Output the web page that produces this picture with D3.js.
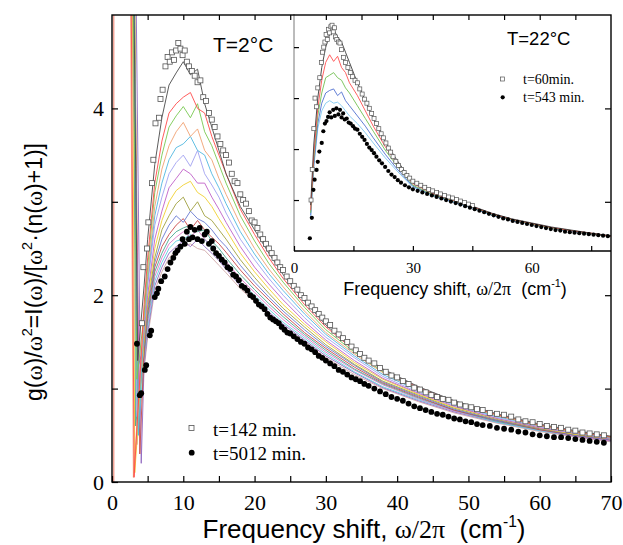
<!DOCTYPE html>
<html>
<head>
<meta charset="utf-8">
<script src="https://cdn.jsdelivr.net/npm/d3@7"></script>
<style>
  body { margin: 0; background: #fff; }
  svg { display: block; }
  .tick line { stroke: #000; stroke-width: 1.2; }
</style>
</head>
<body>
<div id="chart"></div>
<script>
// ---- main plot (T = 2 C) ----
// open squares, t = 142 min
var squares142 = [[4.2,1.7],[4.4,2.3],[4.9,2.5],[5.1,2.78],[5.6,3.2],[5.8,3.45],[6.1,3.84],[6.6,3.9],[6.8,4.1],[7.1,4.2],[7.5,4.45],[7.8,4.55],[8.1,4.5],[8.4,4.6],[8.7,4.52],[9.0,4.62],[9.3,4.7],[9.6,4.64],[9.9,4.57],[10.2,4.62],[10.5,4.5],[10.8,4.45],[11.2,4.4],[11.6,4.35],[12.0,4.28],[12.4,4.3],[12.8,4.12],[13.2,4.08],[13.6,3.95],[14.0,3.88],[14.4,3.8],[14.8,3.7],[15.2,3.62],[15.6,3.55],[16.0,3.5],[16.4,3.42],[16.8,3.3],[17.2,3.22],[17.6,3.2],[18.0,3.08],[18.4,3.02],[18.8,2.98],[19.2,2.9],[19.6,2.8],[20.0,2.78],[20.4,2.72],[20.8,2.65],[21.2,2.6],[21.6,2.55],[22.0,2.5],[22.4,2.45],[22.8,2.4],[23.2,2.35],[23.6,2.3],[24.0,2.27],[24.5,2.2],[25.0,2.15],[25.5,2.1],[26.0,2.06],[26.5,2.0],[27.0,1.97],[27.5,1.92],[28.0,1.88],[28.5,1.84],[29.0,1.8],[29.5,1.76],[30.0,1.72],[30.6,1.68],[31.2,1.62],[31.8,1.58],[32.4,1.54],[33.0,1.5],[33.6,1.45],[34.2,1.41],[34.8,1.37],[35.4,1.33],[36.0,1.3],[36.8,1.27],[37.6,1.22],[38.4,1.18],[39.2,1.14],[40.0,1.12],[40.8,1.08],[41.6,1.05],[42.4,1.01],[43.2,0.99],[44.0,0.96],[44.8,0.93],[45.6,0.91],[46.4,0.89],[47.2,0.88],[48.0,0.85],[48.8,0.83],[49.6,0.81],[50.4,0.8],[51.2,0.78],[52.0,0.77],[53.0,0.74],[54.0,0.73],[55.0,0.72],[56.0,0.7],[57.0,0.67],[58.0,0.65],[59.0,0.64],[60.0,0.62],[61.0,0.6],[62.0,0.59],[63.0,0.58],[64.0,0.56],[65.0,0.55],[66.0,0.53],[67.0,0.52],[68.0,0.51],[69.0,0.5]];

// filled dots, t = 5012 min
var dots5012 = [[3.5,1.48],[3.9,0.93],[4.1,0.95],[4.6,1.2],[4.8,1.25],[5.3,1.57],[5.5,1.62],[6.0,1.98],[6.3,2.02],[6.5,2.07],[6.9,2.15],[7.4,2.2],[7.8,2.28],[8.2,2.35],[8.6,2.4],[8.9,2.45],[9.2,2.48],[9.6,2.52],[9.9,2.6],[10.2,2.55],[10.5,2.68],[10.8,2.6],[11.0,2.73],[11.3,2.62],[11.6,2.7],[12.0,2.6],[12.3,2.72],[12.6,2.58],[13.0,2.65],[13.3,2.68],[13.6,2.55],[14.0,2.58],[14.2,2.5],[14.6,2.45],[15.0,2.42],[15.4,2.38],[15.8,2.35],[16.2,2.3],[16.6,2.28],[17.0,2.22],[17.4,2.2],[17.8,2.16],[18.2,2.1],[18.6,2.08],[19.0,2.05],[19.4,2.0],[19.8,1.98],[20.2,1.94],[20.6,1.9],[21.0,1.88],[21.4,1.85],[21.8,1.8],[22.2,1.76],[22.6,1.74],[23.0,1.72],[23.4,1.7],[23.8,1.66],[24.2,1.63],[24.6,1.6],[25.0,1.59],[25.5,1.56],[26.0,1.53],[26.5,1.5],[27.0,1.48],[27.5,1.44],[28.0,1.42],[28.5,1.39],[29.0,1.35],[29.5,1.33],[30.0,1.3],[30.6,1.27],[31.2,1.24],[31.8,1.2],[32.4,1.18],[33.0,1.15],[33.6,1.12],[34.2,1.1],[34.8,1.08],[35.4,1.05],[36.0,1.03],[36.8,1.0],[37.6,0.97],[38.4,0.94],[39.2,0.91],[40.0,0.89],[40.8,0.87],[41.6,0.84],[42.4,0.81],[43.2,0.79],[44.0,0.77],[44.8,0.75],[45.6,0.73],[46.4,0.72],[47.2,0.7],[48.0,0.68],[48.8,0.67],[49.6,0.65],[50.4,0.64],[51.2,0.62],[52.0,0.61],[53.0,0.6],[54.0,0.58],[55.0,0.57],[56.0,0.56],[57.0,0.54],[58.0,0.53],[59.0,0.51],[60.0,0.5],[61.0,0.49],[62.0,0.48],[63.0,0.48],[64.0,0.47],[65.0,0.46],[66.0,0.45],[67.0,0.44],[68.0,0.43],[69.0,0.42]];

// intermediate times, thin coloured lines
var lineFreq = [4.5,5,6,7,8,9,10,11,12,13,14,15,16,18,20,22,24,27,30,34,38,43,48,54,60,65,70];
var lineColors = ["#4a4a4a","#ff4a4a","#78c850","#f0a070","#50b8e0","#a0a0f0","#c060c8","#f0d030",
                  "#a0a040","#6878d0","#c84848","#48a890","#e078c8","#60d0e0","#9068c0","#d0a8a8"];
// low frequency part: where each line leaves the top, and its dip
var lineTopFreq = [2.9,2.6,2.8,2.5,2.9,3.0,2.7,2.8,3.1,2.6,2.9,3.0,2.7,2.8,3.2,2.9];
var lineMinFreq = [3.6,3.1,3.5,3.0,3.7,3.5,3.8,3.2,3.6,3.5,3.9,3.3,3.7,3.6,4.1,3.5];
var lineMinValue = [1.3,0.05,1.1,0.05,0.5,0.7,1.0,0.1,0.8,1.2,0.3,0.6,0.9,0.5,0.2,0.4];
var lineValues = [
  [2.1,2.6,3.4,3.9,4.25,4.38,4.5,4.36,4.42,4.05,3.8,3.55,3.3,2.95,2.7,2.45,2.22,1.94,1.68,1.42,1.21,1.02,0.87,0.73,0.62,0.55,0.49],
  [1.9,2.4,3.2,3.65,3.95,4.05,4.12,4.17,4.0,3.95,3.7,3.5,3.3,2.92,2.65,2.4,2.18,1.9,1.66,1.41,1.2,1.01,0.86,0.72,0.61,0.54,0.48],
  [1.8,2.3,3.1,3.5,3.8,3.92,4.02,3.9,4.05,3.75,3.6,3.4,3.2,2.85,2.58,2.34,2.14,1.87,1.63,1.39,1.18,1.0,0.85,0.72,0.61,0.54,0.48],
  [1.75,2.2,2.95,3.35,3.6,3.75,3.85,3.7,3.78,3.55,3.45,3.25,3.08,2.76,2.5,2.28,2.09,1.83,1.6,1.37,1.17,0.99,0.84,0.71,0.6,0.53,0.48],
  [1.7,2.15,2.85,3.2,3.45,3.58,3.62,3.7,3.55,3.5,3.3,3.15,2.98,2.68,2.44,2.23,2.05,1.8,1.58,1.35,1.15,0.98,0.83,0.7,0.6,0.53,0.47],
  [1.65,2.1,2.75,3.05,3.3,3.42,3.5,3.38,3.55,3.3,3.18,3.05,2.88,2.6,2.38,2.18,2.0,1.76,1.55,1.33,1.13,0.96,0.82,0.69,0.59,0.52,0.47],
  [1.6,2.0,2.6,2.9,3.15,3.25,3.35,3.3,3.2,3.2,3.05,2.92,2.78,2.52,2.3,2.12,1.95,1.72,1.52,1.3,1.11,0.95,0.81,0.68,0.58,0.52,0.46],
  [1.55,1.95,2.5,2.8,3.0,3.12,3.18,3.22,3.1,3.05,2.95,2.82,2.7,2.45,2.25,2.07,1.9,1.69,1.5,1.28,1.1,0.94,0.8,0.68,0.58,0.51,0.46],
  [1.5,1.9,2.4,2.7,2.85,2.98,3.05,2.9,3.0,2.85,2.8,2.7,2.6,2.38,2.19,2.02,1.86,1.66,1.47,1.26,1.08,0.93,0.79,0.67,0.57,0.51,0.46],
  [1.45,1.85,2.35,2.6,2.75,2.85,2.78,2.9,2.82,2.78,2.7,2.6,2.52,2.32,2.14,1.98,1.83,1.63,1.45,1.25,1.07,0.92,0.78,0.66,0.57,0.5,0.45],
  [1.4,1.8,2.3,2.52,2.65,2.75,2.82,2.7,2.8,2.7,2.62,2.55,2.46,2.27,2.1,1.95,1.8,1.6,1.43,1.23,1.06,0.91,0.77,0.66,0.56,0.5,0.45],
  [1.35,1.75,2.25,2.45,2.6,2.68,2.72,2.75,2.68,2.7,2.58,2.5,2.4,2.22,2.06,1.91,1.77,1.58,1.41,1.21,1.05,0.9,0.77,0.65,0.56,0.5,0.45],
  [1.3,1.7,2.2,2.4,2.55,2.62,2.68,2.62,2.7,2.6,2.52,2.45,2.36,2.18,2.03,1.88,1.74,1.56,1.39,1.2,1.04,0.89,0.76,0.65,0.56,0.49,0.44],
  [1.3,1.65,2.15,2.35,2.5,2.58,2.6,2.65,2.58,2.6,2.5,2.4,2.32,2.14,2.0,1.85,1.71,1.54,1.37,1.18,1.02,0.88,0.76,0.64,0.55,0.49,0.44],
  [1.25,1.6,2.1,2.3,2.45,2.52,2.58,2.52,2.6,2.52,2.45,2.37,2.28,2.1,1.96,1.82,1.69,1.52,1.35,1.17,1.01,0.87,0.75,0.64,0.55,0.49,0.44],
  [1.2,1.55,2.05,2.25,2.4,2.48,2.52,2.55,2.5,2.48,2.4,2.32,2.24,2.07,1.93,1.79,1.66,1.5,1.33,1.15,1.0,0.86,0.74,0.63,0.54,0.48,0.43]
];
// stray curve hugging the y axis
var edgeLine = [[0.25,0],[0.25,5.3]];

// ---- inset (T = 22 C) ----
var insetSquares60 = [[4.3,1.0],[4.6,1.6],[5.0,2.4],[5.3,3.0],[5.7,2.83],[6.0,3.2],[6.5,3.4],[6.9,3.7],[7.2,3.9],[7.5,4.0],[7.8,4.1],[8.1,4.25],[8.4,4.15],[8.7,4.35],[9.0,4.28],[9.3,4.4],[9.6,4.43],[9.9,4.3],[10.2,4.38],[10.5,4.2],[10.8,4.15],[11.2,4.1],[11.6,4.08],[12.0,3.95],[12.5,3.8],[13.0,3.7],[13.6,3.6],[14.2,3.5],[14.8,3.42],[15.4,3.35],[16.0,3.3],[16.6,3.18],[17.2,3.08],[17.8,2.98],[18.4,2.9],[19.0,2.8],[19.6,2.7],[20.2,2.6],[20.8,2.5],[21.4,2.4],[22.0,2.3],[22.6,2.22],[23.2,2.12],[23.8,2.02],[24.4,1.94],[25.0,1.85],[25.7,1.76],[26.4,1.68],[27.1,1.6],[27.8,1.54],[28.5,1.48],[29.2,1.43],[30.0,1.37],[31.0,1.33],[32.0,1.29],[33.0,1.25],[34.0,1.21],[35.0,1.18],[36.0,1.15],[37.0,1.12],[38.0,1.09],[39.0,1.06],[40.0,1.04],[41.0,1.01],[42.0,0.98],[43.0,0.95],[44.0,0.92],[45.0,0.89]];
var insetDots543 = [[4.0,0.25],[4.5,0.65],[4.9,1.2],[5.2,1.4],[5.7,1.59],[6.0,1.75],[6.4,1.95],[7.0,2.12],[7.4,2.35],[7.8,2.5],[8.2,2.55],[8.6,2.63],[9.0,2.72],[9.4,2.62],[9.9,2.77],[10.3,2.65],[10.7,2.8],[11.2,2.68],[11.6,2.77],[12.0,2.62],[12.4,2.7],[12.8,2.58],[13.3,2.6],[13.8,2.52],[14.3,2.5],[14.9,2.45],[15.4,2.4],[16.0,2.38],[16.6,2.3],[17.2,2.24],[17.8,2.18],[18.4,2.1],[19.0,2.03],[19.6,1.98],[20.2,1.92],[20.8,1.85],[21.5,1.78],[22.2,1.72],[23.0,1.65],[23.8,1.57],[24.6,1.5],[25.4,1.45],[26.2,1.39],[27.0,1.34],[28.0,1.29],[29.0,1.25],[30.0,1.21],[31.2,1.18],[32.4,1.15],[33.6,1.12],[34.8,1.09],[36.0,1.06],[37.2,1.03],[38.4,1.0],[39.6,0.97],[40.8,0.94],[42.0,0.91],[43.2,0.88],[44.4,0.85],[45.6,0.82],[46.8,0.79],[48.0,0.76],[49.2,0.73],[50.4,0.7],[51.6,0.67],[52.8,0.64],[54.0,0.62],[55.2,0.59],[56.4,0.57],[57.6,0.55],[58.8,0.53],[60.0,0.51],[61.2,0.49],[62.4,0.47],[63.6,0.45],[64.8,0.43],[66.0,0.41],[67.2,0.4],[68.4,0.38],[69.6,0.37],[70.8,0.36],[72.0,0.35],[73.2,0.34],[74.4,0.33],[75.6,0.32],[76.8,0.31],[78.0,0.3],[79.2,0.29]];
var insetLineFreq = [4.2,5,6,7,8,9,10,11,12,13,14,16,18,20,23,26,30,35,40,45,50,55,60,65,70,75,80];
var insetLineColors = ["#3a3a3a","#ff5050","#70c050","#5070d0","#80c8f0"];
var insetLineValues = [
  [0.9,2.1,3.0,3.6,4.0,4.25,4.35,4.2,4.1,3.9,3.7,3.3,2.95,2.6,2.15,1.78,1.34,1.15,1.02,0.88,0.74,0.63,0.55,0.47,0.41,0.35,0.3],
  [0.8,1.9,2.8,3.35,3.7,3.85,3.72,3.82,3.6,3.5,3.3,3.05,2.75,2.45,2.05,1.72,1.32,1.13,1.0,0.87,0.73,0.62,0.54,0.46,0.4,0.35,0.29],
  [0.75,1.8,2.65,3.1,3.4,3.45,3.5,3.4,3.35,3.2,3.1,2.85,2.6,2.35,1.98,1.67,1.29,1.11,0.99,0.86,0.72,0.61,0.53,0.45,0.4,0.34,0.29],
  [0.7,1.7,2.5,2.9,3.1,3.15,3.18,3.05,3.12,2.95,2.85,2.65,2.45,2.22,1.9,1.61,1.27,1.1,0.97,0.85,0.71,0.6,0.53,0.45,0.39,0.34,0.29],
  [0.65,1.65,2.4,2.75,2.9,2.95,2.9,2.92,2.85,2.75,2.65,2.5,2.32,2.12,1.83,1.57,1.25,1.08,0.96,0.84,0.7,0.6,0.52,0.44,0.39,0.34,0.29]
];

var mainXTicks = [0,10,20,30,40,50,60,70];
var mainYTicks = [0,2,4];
var insetXTicks = [0,30,60];

var W = 623, H = 545;
var SANS = "'Liberation Sans', Arial, sans-serif";
var SERIF = "'Liberation Serif', 'Times New Roman', serif";

var svg = d3.select("#chart").append("svg")
    .attr("width", W).attr("height", H);

var x = d3.scaleLinear().domain([0, 70]).range([112, 611]);
var y = d3.scaleLinear().domain([0, 5]).range([482, 15]);

var xi = d3.scaleLinear().domain([0, 80]).range([294, 611]);
var yi = d3.scaleLinear().domain([0, 4.65]).range([251, 14]);

var defs = svg.append("defs");
defs.append("clipPath").attr("id", "clipMain").append("rect")
    .attr("x", 112).attr("y", 15).attr("width", 499).attr("height", 467);
defs.append("clipPath").attr("id", "clipInset").append("rect")
    .attr("x", 294).attr("y", 14).attr("width", 317).attr("height", 237);

// ---------- main plot data ----------
var main = svg.append("g").attr("clip-path", "url(#clipMain)");
var line = d3.line().x(function (d) { return x(d[0]); }).y(function (d) { return y(d[1]); });

main.append("path").datum(edgeLine)
    .attr("fill", "none").attr("stroke", "#f09080").attr("stroke-width", 1.2).attr("d", line);

for (var i = lineValues.length - 1; i >= 0; i--) {
    var pts = [[lineTopFreq[i], 6.5], [lineMinFreq[i], lineMinValue[i]]];
    lineFreq.forEach(function (f, k) { pts.push([f, lineValues[i][k]]); });
    main.append("path").datum(pts)
        .attr("fill", "none")
        .attr("stroke", lineColors[i])
        .attr("stroke-width", 0.9)
        .attr("d", line);
}

main.selectAll(".sq").data(squares142).enter().append("rect")
    .attr("x", function (d) { return x(d[0]) - 2.5; })
    .attr("y", function (d) { return y(d[1]) - 2.5; })
    .attr("width", 5).attr("height", 5)
    .attr("fill", "#fff").attr("stroke", "#555").attr("stroke-width", 0.8);

main.selectAll(".dot").data(dots5012).enter().append("circle")
    .attr("cx", function (d) { return x(d[0]); })
    .attr("cy", function (d) { return y(d[1]); })
    .attr("r", 2.9).attr("fill", "#000");

// legend + temperature
svg.append("rect").attr("x", 189).attr("y", 425.5).attr("width", 5).attr("height", 5)
    .attr("fill", "#fff").attr("stroke", "#555").attr("stroke-width", 0.8);
svg.append("circle").attr("cx", 191.7).attr("cy", 452.7).attr("r", 2.9).attr("fill", "#000");
svg.append("text").attr("x", 213).attr("y", 436).attr("font-family", SERIF).attr("font-size", 19)
    .text("t=142 min.");
svg.append("text").attr("x", 213).attr("y", 460).attr("font-family", SERIF).attr("font-size", 19)
    .text("t=5012 min.");
svg.append("text").attr("x", 213).attr("y", 51.5).attr("font-family", SANS).attr("font-size", 21)
    .text("T=2\u00B0C");

// ---------- inset ----------
var inset = svg.append("g");
inset.append("rect").attr("x", 294).attr("y", 14).attr("width", 317).attr("height", 237)
    .attr("fill", "#fff");
var insetData = inset.append("g").attr("clip-path", "url(#clipInset)");
var iline = d3.line().x(function (d) { return xi(d[0]); }).y(function (d) { return yi(d[1]); });

for (var j = insetLineValues.length - 1; j >= 0; j--) {
    var ipts = insetLineFreq.map(function (f, k) { return [f, insetLineValues[j][k]]; });
    insetData.append("path").datum(ipts)
        .attr("fill", "none").attr("stroke", insetLineColors[j]).attr("stroke-width", 0.9)
        .attr("d", iline);
}
insetData.selectAll(".isq").data(insetSquares60).enter().append("rect")
    .attr("x", function (d) { return xi(d[0]) - 2; })
    .attr("y", function (d) { return yi(d[1]) - 2; })
    .attr("width", 4).attr("height", 4)
    .attr("fill", "#fff").attr("stroke", "#555").attr("stroke-width", 0.7);
insetData.selectAll(".idot").data(insetDots543).enter().append("circle")
    .attr("cx", function (d) { return xi(d[0]); })
    .attr("cy", function (d) { return yi(d[1]); })
    .attr("r", 2.1).attr("fill", "#000");

// inset frame and axes
inset.append("line").attr("x1", 294).attr("x2", 294).attr("y1", 14).attr("y2", 251)
    .attr("stroke", "#555").attr("stroke-width", 0.8);
inset.append("line").attr("x1", 294).attr("x2", 611).attr("y1", 251).attr("y2", 251)
    .attr("stroke", "#000").attr("stroke-width", 1.3);

var ixAxis = inset.append("g").attr("transform", "translate(0,251)")
    .call(d3.axisBottom(xi).tickValues([0,15,30,45,60,75]).tickSize(-5).tickPadding(11)
        .tickFormat(function (d) { return insetXTicks.indexOf(d) >= 0 ? d : ""; }));
ixAxis.select(".domain").remove();
ixAxis.selectAll("text").attr("font-family", SERIF).attr("font-size", 15).attr("fill", "#000");

var iyAxis = inset.append("g").attr("transform", "translate(294,0)")
    .call(d3.axisLeft(yi).tickValues([1,2,3,4]).tickSize(-5).tickFormat(""));
iyAxis.select(".domain").remove();
iyAxis.selectAll("line").attr("stroke", "#444").attr("stroke-width", 0.9);

inset.append("rect").attr("x", 500.5).attr("y", 77).attr("width", 4).attr("height", 4)
    .attr("fill", "#fff").attr("stroke", "#555").attr("stroke-width", 0.7);
inset.append("circle").attr("cx", 502.7).attr("cy", 97.3).attr("r", 2.1).attr("fill", "#000");
inset.append("text").attr("x", 523).attr("y", 84).attr("font-family", SERIF).attr("font-size", 14)
    .text("t=60min.");
inset.append("text").attr("x", 523).attr("y", 102).attr("font-family", SERIF).attr("font-size", 14)
    .text("t=543 min.");
inset.append("text").attr("x", 507).attr("y", 45).attr("font-family", SANS).attr("font-size", 18.5)
    .text("T=22\u00B0C");

function freqLabel(sel, fs) {
    sel.append("tspan").attr("font-family", SANS).text("Frequency shift, ");
    sel.append("tspan").attr("font-family", SERIF).text("\u03C9/2\u03C0");
    sel.append("tspan").attr("font-family", SANS).text("\u00A0\u00A0(cm");
    sel.append("tspan").attr("font-family", SANS).attr("font-size", fs * 0.6)
        .attr("dy", -fs * 0.42).text("-1");
    sel.append("tspan").attr("font-family", SANS).attr("dy", fs * 0.42).text(")");
}
var ixl = inset.append("text").attr("x", 455).attr("y", 295).attr("text-anchor", "middle")
    .attr("font-size", 18);
freqLabel(ixl, 18);

// ---------- main frame and axes (drawn on top) ----------
svg.append("rect").attr("x", 112).attr("y", 15).attr("width", 499).attr("height", 467)
    .attr("fill", "none").attr("stroke", "#000").attr("stroke-width", 1.4);

var every5 = d3.range(0, 71, 5);
var xAxisB = svg.append("g").attr("transform", "translate(0,482)")
    .call(d3.axisBottom(x).tickValues(every5).tickSize(-6).tickPadding(12.5)
        .tickFormat(function (d) { return mainXTicks.indexOf(d) >= 0 ? d : ""; }));
var xAxisT = svg.append("g").attr("transform", "translate(0,15)")
    .call(d3.axisTop(x).tickValues(every5.slice(1, -1)).tickSize(-5).tickFormat(""));
var yAxisL = svg.append("g").attr("transform", "translate(112,0)")
    .call(d3.axisLeft(y).tickValues([0,1,2,3,4]).tickSize(-6).tickPadding(8)
        .tickFormat(function (d) { return mainYTicks.indexOf(d) >= 0 ? d : ""; }));
var yAxisR = svg.append("g").attr("transform", "translate(611,0)")
    .call(d3.axisRight(y).tickValues([1,2,3,4]).tickSize(-6).tickFormat(""));

[xAxisB, xAxisT, yAxisL, yAxisR].forEach(function (a) { a.select(".domain").remove(); });
svg.selectAll(".tick text").attr("fill", "#000");
xAxisB.selectAll("text").attr("font-family", SERIF).attr("font-size", 22);
yAxisL.selectAll("text").attr("font-family", SERIF).attr("font-size", 22);

// axis titles
var xl = svg.append("text").attr("x", 364).attr("y", 538).attr("text-anchor", "middle")
    .attr("font-size", 26);
freqLabel(xl, 26);

var yl = svg.append("text").attr("transform", "translate(42,272) rotate(-90)")
    .attr("text-anchor", "middle").attr("font-size", 23).attr("font-family", SANS);
var parts = [["g(", 0], ["\u03C9", 1], [")/", 0], ["\u03C9", 1], ["2", 2], ["=I(", 3], ["\u03C9", 1],
             [")/[", 0], ["\u03C9", 1], ["2", 2], ["\u00B7(n(", 3], ["\u03C9", 1], [")+1)]", 0]];
parts.forEach(function (p) {
    var t = yl.append("tspan").text(p[0]);
    if (p[1] === 1) t.attr("font-family", SERIF);
    if (p[1] === 2) t.attr("font-size", 14.5).attr("dy", -10);
    if (p[1] === 3) t.attr("dy", 10);
});
</script>
</body>
</html>
